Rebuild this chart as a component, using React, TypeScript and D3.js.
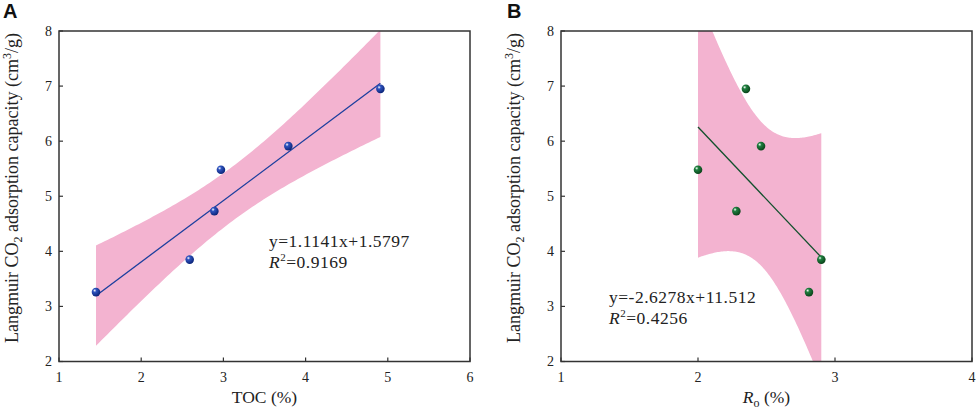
import React, { useEffect, useRef } from "react";
import * as d3 from "d3";

// panel A: TOC vs Langmuir CO2 capacity
const tocValues = [1.45, 2.59, 2.89, 2.97, 3.79, 4.91];
const capacityA = [3.26, 3.85, 4.73, 5.48, 5.91, 6.95];
// panel B: Ro vs Langmuir CO2 capacity
const roValues = [2.0, 2.28, 2.35, 2.46, 2.81, 2.9];
const capacityB = [5.48, 4.73, 6.95, 5.91, 3.26, 3.85];

const fitA = { slope: 1.1141, intercept: 1.5797, text: "y=1.1141x+1.5797", r2: "=0.9169" };
const fitB = { slope: -2.6278, intercept: 11.512, text: "y=-2.6278x+11.512", r2: "=0.4256" };

const xTicksA = [1, 2, 3, 4, 5, 6];
const xTicksB = [1, 2, 3, 4];
const yTicks = [2, 3, 4, 5, 6, 7, 8];

const T_975_DF4 = 2.776;
const SERIF = "'Times New Roman', 'Liberation Serif', serif";

interface PanelOpts {
  id: string;
  letter: string;
  left: number;
  right: number;
  xDomain: [number, number];
  xTicks: number[];
  xs: number[];
  ys: number[];
  fit: { slope: number; intercept: number; text: string; r2: string };
  lineColor: string;
  dotLight: string;
  dotDark: string;
  letterX: number;
  yLabelX: number;
  eqX: number;
  eqY: number;
  xLabel: "toc" | "ro";
}

const App: React.FC = () => {
  const svgRef = useRef<SVGSVGElement>(null);

  useEffect(() => {
    const svg = d3.select(svgRef.current);
    svg.selectAll("*").remove();
    const defs = svg.append("defs");
    const top = 31;
    const bottom = 361.5;

    const drawPanel = (o: PanelOpts) => {
      const x = d3.scaleLinear().domain(o.xDomain).range([o.left, o.right]);
      const y = d3.scaleLinear().domain([2, 8]).range([bottom, top]);
      const g = svg.append("g");

      defs
        .append("clipPath")
        .attr("id", `clip-${o.id}`)
        .append("rect")
        .attr("x", o.left)
        .attr("y", top)
        .attr("width", o.right - o.left)
        .attr("height", bottom - top);

      const grad = defs
        .append("radialGradient")
        .attr("id", `dot-${o.id}`)
        .attr("cx", "35%")
        .attr("cy", "32%")
        .attr("r", "70%");
      grad.append("stop").attr("offset", "0%").attr("stop-color", "#ffffff");
      grad.append("stop").attr("offset", "28%").attr("stop-color", o.dotLight);
      grad.append("stop").attr("offset", "100%").attr("stop-color", o.dotDark);

      // 95% confidence band of the fitted line
      const n = o.xs.length;
      const mx = d3.mean(o.xs)!;
      const sxx = d3.sum(o.xs, (v) => (v - mx) ** 2);
      const pred = (v: number) => o.fit.slope * v + o.fit.intercept;
      const sse = d3.sum(o.xs, (v, i) => (o.ys[i] - pred(v)) ** 2);
      const s = Math.sqrt(sse / (n - 2));
      const half = (v: number) => T_975_DF4 * s * Math.sqrt(1 / n + (v - mx) ** 2 / sxx);
      const [x0, x1] = d3.extent(o.xs) as [number, number];
      const grid = d3.range(0, 101).map((k) => x0 + ((x1 - x0) * k) / 100);

      const area = d3
        .area<number>()
        .x((v) => x(v))
        .y0((v) => y(pred(v) - half(v)))
        .y1((v) => y(pred(v) + half(v)));

      g.append("path")
        .attr("clip-path", `url(#clip-${o.id})`)
        .attr("d", area(grid))
        .attr("fill", "#f3b3d0");

      g.append("line")
        .attr("x1", x(x0))
        .attr("y1", y(pred(x0)))
        .attr("x2", x(x1))
        .attr("y2", y(pred(x1)))
        .attr("stroke", o.lineColor)
        .attr("stroke-width", 1.3);

      g.selectAll("circle.dot")
        .data(o.xs)
        .join("circle")
        .attr("class", "dot")
        .attr("cx", (d) => x(d))
        .attr("cy", (d, i) => y(o.ys[i]))
        .attr("r", 4.3)
        .attr("fill", `url(#dot-${o.id})`);

      // frame
      g.append("rect")
        .attr("x", o.left)
        .attr("y", top)
        .attr("width", o.right - o.left)
        .attr("height", bottom - top)
        .attr("fill", "none")
        .attr("stroke", "#333")
        .attr("stroke-width", 1.5);

      // ticks (inward)
      g.selectAll("line.xt")
        .data(o.xTicks)
        .join("line")
        .attr("class", "xt")
        .attr("x1", (d) => x(d))
        .attr("x2", (d) => x(d))
        .attr("y1", bottom)
        .attr("y2", bottom - 4)
        .attr("stroke", "#333")
        .attr("stroke-width", 1.2);
      g.selectAll("line.yt")
        .data(yTicks)
        .join("line")
        .attr("class", "yt")
        .attr("x1", o.left)
        .attr("x2", o.left + 4)
        .attr("y1", (d) => y(d))
        .attr("y2", (d) => y(d))
        .attr("stroke", "#333")
        .attr("stroke-width", 1.2);

      g.selectAll("text.xl")
        .data(o.xTicks)
        .join("text")
        .attr("class", "xl")
        .attr("x", (d) => x(d))
        .attr("y", 381.5)
        .attr("text-anchor", "middle")
        .attr("font-family", SERIF)
        .attr("font-size", 14)
        .attr("fill", "#222")
        .text((d) => d);
      g.selectAll("text.yl")
        .data(yTicks)
        .join("text")
        .attr("class", "yl")
        .attr("x", o.left - 7)
        .attr("y", (d) => y(d))
        .attr("dy", "0.35em")
        .attr("text-anchor", "end")
        .attr("font-family", SERIF)
        .attr("font-size", 14)
        .attr("fill", "#222")
        .text((d) => d);

      // panel letter
      g.append("text")
        .attr("x", o.letterX)
        .attr("y", 18)
        .attr("font-family", "Arial, 'Liberation Sans', sans-serif")
        .attr("font-weight", "bold")
        .attr("font-size", 20)
        .attr("fill", "#111")
        .text(o.letter);

      // y axis label
      const yl = g
        .append("text")
        .attr("transform", `translate(${o.yLabelX},${188}) rotate(-90)`)
        .attr("text-anchor", "middle")
        .attr("font-family", SERIF)
        .attr("font-size", 18)
        .attr("fill", "#222");
      yl.append("tspan").text("Langmuir CO");
      yl.append("tspan").attr("font-size", 12).attr("dy", 4).text("2");
      yl.append("tspan").attr("dy", -4).text(" adsorption capacity (cm");
      yl.append("tspan").attr("font-size", 12).attr("dy", -7).text("3");
      yl.append("tspan").attr("dy", 7).text("/g)");

      // x axis label
      const xl = g
        .append("text")
        .attr("x", (o.left + o.right) / 2)
        .attr("y", 403)
        .attr("text-anchor", "middle")
        .attr("font-family", SERIF)
        .attr("font-size", 17.5)
        .attr("fill", "#222");
      if (o.xLabel === "toc") {
        xl.text("TOC (%)");
      } else {
        xl.append("tspan").attr("font-style", "italic").text("R");
        xl.append("tspan").attr("font-size", 12).attr("dy", 4).text("o");
        xl.append("tspan").attr("dy", -4).text(" (%)");
      }

      // equation
      const eq = g
        .append("text")
        .attr("font-family", SERIF)
        .attr("font-size", 17.5)
        .attr("letter-spacing", 0.5)
        .attr("fill", "#222");
      eq.append("tspan").attr("x", o.eqX).attr("y", o.eqY).text(o.fit.text);
      eq.append("tspan")
        .attr("x", o.eqX)
        .attr("y", o.eqY + 21)
        .attr("font-style", "italic")
        .text("R");
      eq.append("tspan").attr("font-size", 11).attr("dy", -7).text("2");
      eq.append("tspan").attr("dy", 7).text(o.fit.r2);
    };

    drawPanel({
      id: "a",
      letter: "A",
      left: 59,
      right: 470,
      xDomain: [1, 6],
      xTicks: xTicksA,
      xs: tocValues,
      ys: capacityA,
      fit: fitA,
      lineColor: "#1c3f9e",
      dotLight: "#2f54c0",
      dotDark: "#0b2478",
      letterX: 3,
      yLabelX: 18,
      eqX: 269,
      eqY: 247,
      xLabel: "toc",
    });

    drawPanel({
      id: "b",
      letter: "B",
      left: 561,
      right: 972,
      xDomain: [1, 4],
      xTicks: xTicksB,
      xs: roValues,
      ys: capacityB,
      fit: fitB,
      lineColor: "#11502c",
      dotLight: "#1f8040",
      dotDark: "#0a4219",
      letterX: 507,
      yLabelX: 520,
      eqX: 609,
      eqY: 303,
      xLabel: "ro",
    });
  }, []);

  return (
    <svg
      ref={svgRef}
      width={976}
      height={409}
      style={{ position: "absolute", left: 0, top: 0, background: "#fff" }}
    />
  );
};

export default App;
